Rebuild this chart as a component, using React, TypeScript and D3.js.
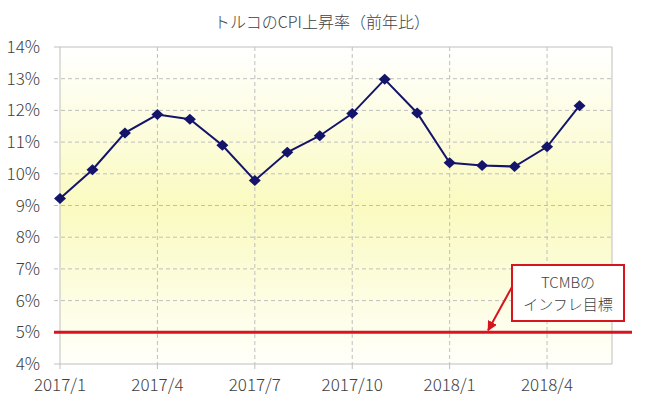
import React from 'react'
import * as d3 from 'd3'

const months = [
	'2017/1', '2017/2', '2017/3', '2017/4', '2017/5', '2017/6', '2017/7', '2017/8', '2017/9',
	'2017/10', '2017/11', '2017/12', '2018/1', '2018/2', '2018/3', '2018/4', '2018/5',
]
const cpi = [9.22, 10.13, 11.29, 11.87, 11.72, 10.9, 9.79, 10.68, 11.2, 11.9, 12.98, 11.92, 10.35, 10.26, 10.23, 10.85, 12.15]
const xTicks = ['2017/1', '2017/4', '2017/7', '2017/10', '2018/1', '2018/4']
const yTicks = [4, 5, 6, 7, 8, 9, 10, 11, 12, 13, 14]
const target = 5
const title = 'トルコのCPI上昇率（前年比）'
const noteLines = ['TCMBの', 'インフレ目標']

const W = 650, H = 399
const left = 60, right = 612, top = 47, bottom = 364
const font = '"Noto Sans CJK JP", "Noto Sans", sans-serif'
const textColor = '#404040'
const gridColor = '#bfbfbf'
const navy = '#14146b'
const red = '#d8141e'

const App = () => {
	// 17 points, one extra month of room on the right
	const x = d3.scaleLinear().domain([0, months.length]).range([left, right])
	const y = d3.scaleLinear().domain([4, 14]).range([bottom, top])
	const idx = (m: string) => months.indexOf(m)

	const line = d3
		.line<number>()
		.x((d, i) => x(i))
		.y((d) => y(d))

	// squat diamond marker like excel's
	const diamond = 'M0,-5.5L6,0L0,5.5L-6,0Z'

	// annotation box
	const bx = 512, by = 265, bw = 112, bh = 56
	const arrowEnd = { x: x(idx('2018/2')) + 6, y: y(target) - 2 }

	return (
		<svg width={W} height={H} style={{ position: 'absolute', left: 0, top: 0 }}>
			<defs>
				<linearGradient id='bg' x1='0' y1='0' x2='0' y2='1'>
					<stop offset='0%' stopColor='#ffffff' />
					<stop offset='50%' stopColor='#fafac0' />
					<stop offset='100%' stopColor='#fffffa' />
				</linearGradient>
				<marker id='arrow' viewBox='0 0 10 10' refX='9' refY='5' markerWidth='5' markerHeight='5' orient='auto'>
					<path d='M0,0 L10,5 L0,10 z' fill={red} />
				</marker>
			</defs>
			<rect width={W} height={H} fill='#fff' />
			<text x={322} y={28} textAnchor='middle' fontFamily={font} fontSize={16} fontWeight={300} fill={textColor}>
				{title}
			</text>
			<rect x={left} y={top} width={right - left} height={bottom - top} fill='url(#bg)' />

			{/* horizontal grid */}
			{yTicks.slice(1, -1).map((t) => (
				<line key={t} x1={left - 6} x2={right} y1={y(t)} y2={y(t)} stroke={gridColor} strokeDasharray='4,3' />
			))}
			{/* vertical grid */}
			{xTicks.slice(1).map((m) => (
				<line key={m} x1={x(idx(m))} x2={x(idx(m))} y1={top} y2={bottom} stroke={gridColor} strokeDasharray='4,3' />
			))}

			{/* frame */}
			<line x1={left - 6} x2={right} y1={top} y2={top} stroke={gridColor} />
			<line x1={right} x2={right} y1={top} y2={bottom} stroke={gridColor} />
			<line x1={left} x2={left} y1={top} y2={bottom} stroke={gridColor} />
			<line x1={left - 6} x2={right} y1={bottom} y2={bottom} stroke={gridColor} />
			{xTicks.map((m) => (
				<line key={m} x1={x(idx(m))} x2={x(idx(m))} y1={bottom} y2={bottom + 5} stroke={gridColor} />
			))}

			{/* axis labels */}
			{yTicks.map((t) => (
				<text key={t} x={40} y={y(t) + 6} textAnchor='end' fontFamily={font} fontSize={17} fontWeight={300} fill={textColor}>
					{t}%
				</text>
			))}
			{xTicks.map((m) => (
				<text key={m} x={x(idx(m))} y={391} textAnchor='middle' fontFamily={font} fontSize={17} fontWeight={300} fill={textColor}>
					{m}
				</text>
			))}

			{/* target line */}
			<line x1={54} x2={632} y1={y(target)} y2={y(target)} stroke={red} strokeWidth={3} />

			{/* series */}
			<path d={line(cpi) || ''} fill='none' stroke={navy} strokeWidth={2} />
			{cpi.map((v, i) => (
				<path key={i} d={diamond} transform={`translate(${x(i)},${y(v)})`} fill={navy} />
			))}

			{/* annotation */}
			<line x1={bx} y1={by + 22} x2={arrowEnd.x} y2={arrowEnd.y} stroke={red} strokeWidth={2} markerEnd='url(#arrow)' />
			<rect x={bx} y={by} width={bw} height={bh} fill='#fff' stroke={red} strokeWidth={2} />
			{noteLines.map((s, i) => (
				<text key={s} x={bx + bw / 2} y={by + 23 + i * 22} textAnchor='middle' fontFamily={font} fontSize={15} fontWeight={300} fill={textColor}>
					{s}
				</text>
			))}
		</svg>
	)
}

export default App
